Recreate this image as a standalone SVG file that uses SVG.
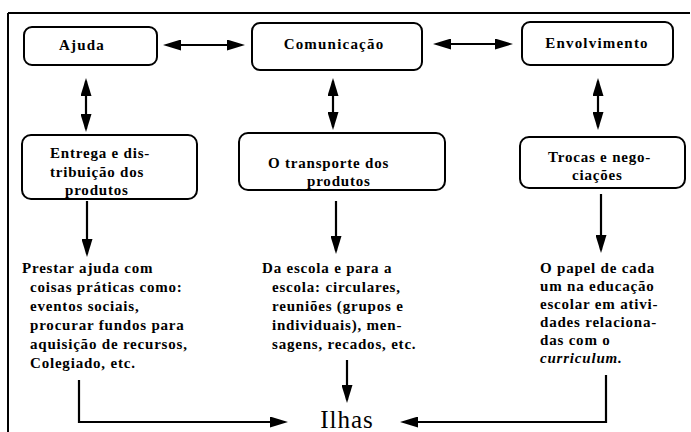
<svg xmlns="http://www.w3.org/2000/svg" width="691" height="432" viewBox="0 0 691 432">
<style>
.box{fill:none;stroke:#000;stroke-width:2}
.t{font-family:"Liberation Serif","Times New Roman",serif;font-weight:bold;font-size:15px;letter-spacing:0.8px;fill:#000}
.h{letter-spacing:1.2px}
.c{stroke:#000;stroke-width:2.2;fill:none}
.big{font-family:"Liberation Serif","Times New Roman",serif;font-size:25px;letter-spacing:1px;fill:#000}
</style>
<defs>
<marker id="ah" viewBox="0 0 18 11" refX="15" refY="5.5" markerWidth="18" markerHeight="11" markerUnits="userSpaceOnUse" orient="auto-start-reverse">
<path d="M0,0 L18,5.5 L0,11 Z" fill="#000"/>
</marker>
</defs>
<rect width="691" height="432" fill="#fff"/>
<path d="M8,13 H690 M8,13 V432" stroke="#000" stroke-width="2" fill="none"/>

<g id="ajuda"><rect class="box" x="24" y="27" width="133" height="38" rx="8"/><text class="t h" x="82" y="50" text-anchor="middle">Ajuda</text></g>
<g id="comunicacao"><rect class="box" x="252" y="23" width="170" height="47" rx="8"/><text class="t h" x="334" y="49" text-anchor="middle">Comunicação</text></g>
<g id="envolvimento"><rect class="box" x="522" y="22" width="151" height="43" rx="8"/><text class="t h" x="597" y="48" text-anchor="middle">Envolvimento</text></g>
<g id="entrega"><rect class="box" x="22" y="135" width="175" height="64" rx="9"/><text class="t"><tspan x="50" y="158">Entrega e dis-</tspan><tspan x="50" y="177">tribuição dos</tspan><tspan x="65" y="195">produtos</tspan></text></g>
<g id="transporte"><rect class="box" x="239" y="133" width="206" height="57" rx="9"/><text class="t"><tspan x="268" y="168">O transporte dos</tspan><tspan x="307" y="186">produtos</tspan></text></g>
<g id="trocas"><rect class="box" x="520" y="137" width="165" height="51" rx="9"/><text class="t"><tspan x="548" y="162">Trocas e nego-</tspan><tspan x="572" y="180">ciações</tspan></text></g>

<g id="prestar"><text class="t"><tspan x="22" y="273">Prestar ajuda  com</tspan><tspan x="30" y="292">coisas práticas como:</tspan><tspan x="30" y="311">eventos sociais,</tspan><tspan x="30" y="330">procurar fundos para</tspan><tspan x="30" y="349">aquisição de recursos,</tspan><tspan x="30" y="368">Colegiado, etc.</tspan></text></g>
<g id="escola"><text class="t"><tspan x="262" y="273">Da escola e para a</tspan><tspan x="272" y="292">escola: circulares,</tspan><tspan x="272" y="311">reuniões (grupos e</tspan><tspan x="272" y="330">individuais), men-</tspan><tspan x="272" y="349">sagens, recados, etc.</tspan></text></g>
<g id="papel"><text class="t"><tspan x="540" y="273">O papel de cada</tspan><tspan x="540" y="291">um na educação</tspan><tspan x="540" y="309">escolar em ativi-</tspan><tspan x="540" y="327">dades relaciona-</tspan><tspan x="540" y="345">das com o</tspan><tspan x="540" y="363" font-style="italic">curriculum.</tspan></text></g>
<g id="ilhas"><text class="big" x="347" y="428" text-anchor="middle">Ilhas</text></g>

<g id="connectors">
<path class="c" d="M166,45 H242" marker-start="url(#ah)" marker-end="url(#ah)"/>
<path class="c" d="M436,44 H510" marker-start="url(#ah)" marker-end="url(#ah)"/>
<path class="c" d="M86,81 V129" marker-start="url(#ah)" marker-end="url(#ah)"/>
<path class="c" d="M333,81 V127" marker-start="url(#ah)" marker-end="url(#ah)"/>
<path class="c" d="M598,81 V127" marker-start="url(#ah)" marker-end="url(#ah)"/>
<path class="c" d="M87,201 V254" marker-end="url(#ah)"/>
<path class="c" d="M336,201 V251" marker-end="url(#ah)"/>
<path class="c" d="M601,194 V250" marker-end="url(#ah)"/>
<path class="c" d="M347,360 V400" marker-end="url(#ah)"/>
<path class="c" d="M79,380 V422 H285" marker-end="url(#ah)"/>
<path class="c" d="M606,375 V422 H403" marker-end="url(#ah)"/>
</g>
</svg>
